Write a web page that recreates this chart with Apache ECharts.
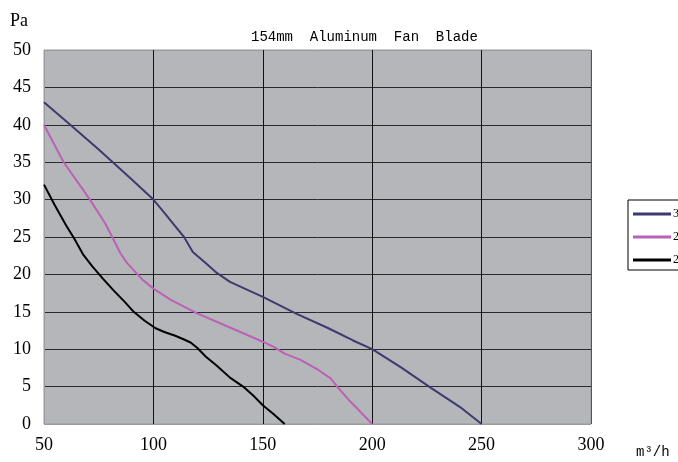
<!DOCTYPE html>
<html><head><meta charset="utf-8">
<script src="https://cdn.jsdelivr.net/npm/echarts@6/dist/echarts.min.js"></script>
<style>html,body{margin:0;padding:0;background:#fff;}#c{width:678px;height:462px;}</style>
</head><body><div id="c"></div>
<script>
const titleText = '154mm  Aluminum  Fan  Blade';
const xTicks = [50, 100, 150, 200, 250, 300];
const seriesNames = ['3000rpm', '2600rpm', '2200rpm'];
const blueX = [50, 62, 75, 89, 100, 104, 109, 114, 118, 124, 129, 135, 150, 165, 180, 191, 200, 213, 227, 240, 250];
const blueY = [43, 40, 36.7, 33, 30, 28.6, 26.8, 25, 23, 21.5, 20.2, 19, 17, 14.8, 12.8, 11.2, 10, 7.6, 4.8, 2.3, 0];
const pinkX = [50, 55, 59, 65, 71, 78, 85, 88, 95, 100, 108, 120, 135, 150, 155, 160, 167, 175, 181, 184, 190, 200];
const pinkY = [40, 37.2, 35, 32.5, 30, 26.8, 22.8, 21.5, 19.3, 18.1, 16.6, 14.8, 12.9, 11, 10.3, 9.4, 8.6, 7.3, 6.1, 5, 3, 0];
const blackX = [50, 55, 60, 64, 68, 72, 77, 82, 87, 91, 96, 101, 105, 110, 114, 117, 120, 124, 129, 135, 141, 146, 150, 155, 160];
const blackY = [32, 29.2, 26.6, 24.7, 22.6, 21.1, 19.4, 17.8, 16.3, 15, 13.8, 12.8, 12.3, 11.8, 11.3, 10.9, 10.2, 9, 7.8, 6.2, 5, 3.7, 2.5, 1.3, 0];

function pairs(xs, ys){ return xs.map((x,i)=>[x, ys[i]]); }
const serifFont = '"Liberation Serif", "DejaVu Serif", serif';
const monoFont = '"Liberation Mono", "DejaVu Sans Mono", monospace';
const chart = echarts.init(document.getElementById('c'));
chart.setOption({
  animation: false,
  backgroundColor: '#fff',
  title: { text: titleText, left: 246, top: 25, textStyle: { fontFamily: monoFont, fontSize: 14, fontWeight: 'normal', color: '#000' } },
  grid: { left: 44, right: 87, top: 50, bottom: 38, show: true, backgroundColor: '#b5b6ba', borderColor: '#9a9b9e', borderWidth: 1 },
  legend: {
    orient: 'vertical', left: 628, top: 200, padding: [8, 5, 4, 5], itemGap: 11,
    itemWidth: 38, itemHeight: 3, icon: 'rect',
    borderColor: '#000', borderWidth: 1, backgroundColor: '#fff',
    textStyle: { fontFamily: serifFont, fontSize: 12, color: '#000', padding: [0,0,0,-3] },
    data: seriesNames
  },
  xAxis: {
    type: 'value', min: 50, max: 300, interval: 50,
    axisLine: { show: false }, axisTick: { show: false },
    axisLabel: { margin: 12, fontFamily: serifFont, fontSize: 18, color: '#000', formatter: v => xTicks.includes(v) ? String(v) : '' },
    splitLine: { show: true, lineStyle: { color: ['#9a9b9e', '#111', '#111', '#111', '#111', '#555'], width: 1 } }
  },
  yAxis: {
    type: 'value', min: 0, max: 50, interval: 5,
    axisLine: { show: false }, axisTick: { show: false },
    axisLabel: { margin: 13, fontFamily: serifFont, fontSize: 18, color: '#000' },
    splitLine: { show: true, lineStyle: { color: ['#9a9b9e', '#2a2a2a', '#2a2a2a', '#2a2a2a', '#2a2a2a', '#2a2a2a', '#2a2a2a', '#2a2a2a', '#2a2a2a', '#2a2a2a', '#9a9b9e'], width: 1 } }
  },
  graphic: [
    { type: 'text', left: 10, top: 12, style: { text: 'Pa', font: '18px ' + serifFont, fill: '#000' } },
    { type: 'text', left: 636, top: 445, style: { text: 'm³/h', font: '14px ' + monoFont, fill: '#000' } }
  ],
  series: [
    { name: seriesNames[0], type: 'line', data: pairs(blueX, blueY), showSymbol: false, lineStyle: { color: '#3b3b70', width: 2 }, itemStyle: { color: '#3b3b70' } },
    { name: seriesNames[1], type: 'line', data: pairs(pinkX, pinkY), showSymbol: false, lineStyle: { color: '#bb62b6', width: 2 }, itemStyle: { color: '#bb62b6' } },
    { name: seriesNames[2], type: 'line', data: pairs(blackX, blackY), showSymbol: false, lineStyle: { color: '#000', width: 2 }, itemStyle: { color: '#000' } }
  ]
});
</script></body></html>
